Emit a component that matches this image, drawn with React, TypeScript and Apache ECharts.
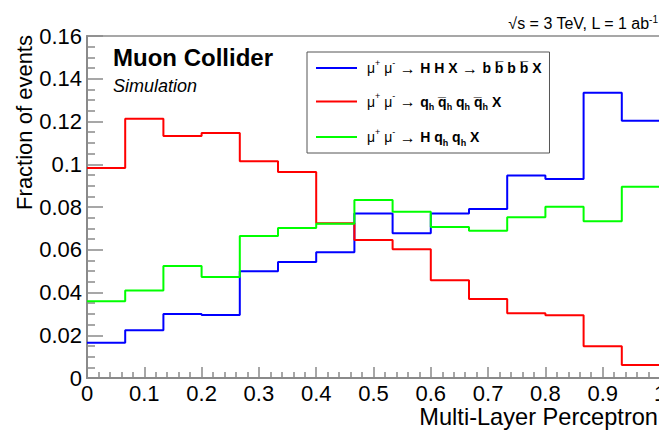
import React, { useEffect, useRef } from "react";
import * as echarts from "echarts";

const xMin = 0;
const xMax = 1;
const nBins = 15;

const seriesNames = ["HHbbbb", "qqqq", "Hqq"];
const seriesColors = ["#0000ff", "#ff0000", "#00ff00"];

// Fraction of events per bin (15 bins from 0 to 1)
const hhValues = [0.0165, 0.0223, 0.0299, 0.0295, 0.0499, 0.0543, 0.0588, 0.077, 0.0677, 0.077, 0.0791, 0.0947, 0.0931, 0.1335, 0.1204];
const qqqqValues = [0.0982, 0.1213, 0.1132, 0.1146, 0.1014, 0.0964, 0.0724, 0.0646, 0.0602, 0.0457, 0.037, 0.0303, 0.0293, 0.0148, 0.0061];
const hqqValues = [0.0359, 0.0409, 0.0524, 0.0473, 0.0664, 0.0702, 0.0722, 0.0833, 0.0778, 0.0706, 0.0689, 0.0752, 0.0801, 0.0733, 0.0895];

const legendLabels: Record<string, string> = {
  HHbbbb: "{m|μ}{sp|+}{m| μ}{sp|-}{ar| → }{b|H H X}{ar| → }{b|b b\u0305 b b\u0305 X}",
  qqqq: "{m|μ}{sp|+}{m| μ}{sp|-}{ar| → }{b|q}{sb|h}{b| q\u0305}{sb|h}{b| q}{sb|h}{b| q\u0305}{sb|h}{b| X}",
  Hqq: "{m|μ}{sp|+}{m| μ}{sp|-}{ar| → }{b|H q}{sb|h}{b| q}{sb|h}{b| X}",
};

const yTicks = { min: 0, max: 0.16, interval: 0.02 };
const xTicks = { min: 0, max: 1, interval: 0.1 };

const FONT = "'Liberation Sans', Arial, Helvetica, sans-serif";
const AXIS_GRAY = "#8a8a8a";

function histPoints(values: number[]): number[][] {
  const w = (xMax - xMin) / nBins;
  const pts = values.map((v, i) => [xMin + i * w, v]);
  pts.push([xMax, values[values.length - 1]]);
  return pts;
}

export default function App() {
  const ref = useRef<HTMLDivElement>(null);
  useEffect(() => {
    if (!ref.current) return;
    const chart = echarts.init(ref.current, undefined, { renderer: "svg" });
    const allValues = [hhValues, qqqqValues, hqqValues];
    chart.setOption({
      animation: false,
      textStyle: { fontFamily: FONT },
      grid: {
        left: 87,
        top: 36,
        width: 573,
        height: 342,
        show: true,
        borderColor: AXIS_GRAY,
        borderWidth: 1.5,
        backgroundColor: "transparent",
        outerBoundsMode: "none",
        containLabel: false,
      },
      xAxis: {
        type: "value",
        min: xTicks.min,
        max: xTicks.max,
        interval: xTicks.interval,
        axisLine: { show: true, lineStyle: { color: AXIS_GRAY, width: 2 } },
        axisTick: { show: true, inside: true, length: 11, lineStyle: { color: AXIS_GRAY, width: 1.5 } },
        minorTick: { show: true, splitNumber: 5, length: 6, lineStyle: { color: AXIS_GRAY, width: 1.5 } },
        splitLine: { show: false },
        axisLabel: { color: "#000", fontSize: 22, margin: 4, fontFamily: FONT, showMaxLabel: true, showMinLabel: true },
      },
      yAxis: {
        type: "value",
        min: yTicks.min,
        max: yTicks.max,
        interval: yTicks.interval,
        axisLine: { show: true, lineStyle: { color: AXIS_GRAY, width: 2 } },
        axisTick: { show: true, inside: true, length: 16, lineStyle: { color: AXIS_GRAY, width: 1.5 } },
        minorTick: { show: true, splitNumber: 4, length: 8, lineStyle: { color: AXIS_GRAY, width: 1.5 } },
        splitLine: { show: false },
        axisLabel: { color: "#000", fontSize: 22, margin: 5, fontFamily: FONT },
      },
      legend: {
        orient: "vertical",
        left: 307,
        top: 52,
        padding: [6, 8, 6, 9],
        itemWidth: 41,
        itemHeight: 2,
        itemGap: 15.5,
        icon: "rect",
        backgroundColor: "#fff",
        borderColor: "#555",
        borderWidth: 1,
        borderRadius: 0,
        data: seriesNames,
        formatter: (name: string) => legendLabels[name],
        textStyle: {
          fontFamily: FONT,
          color: "#000",
          padding: [0, 0, 0, 5],
          rich: {
            m: { fontSize: 14, fontFamily: FONT, color: "#000", lineHeight: 20 },
            ar: { fontSize: 16, fontFamily: FONT, color: "#000", lineHeight: 20 },
            b: { fontSize: 14, fontWeight: "bold", fontFamily: FONT, color: "#000", lineHeight: 20 },
            sp: { fontSize: 9, fontFamily: FONT, color: "#000", lineHeight: 11, verticalAlign: "top" },
            sb: { fontSize: 9, fontWeight: "bold", fontFamily: FONT, color: "#000", lineHeight: 10, verticalAlign: "bottom" },
          },
        },
      },
      graphic: [
        {
          type: "text",
          x: 113,
          y: 57,
          style: { text: "Muon Collider", font: `bold 24px ${FONT}`, fill: "#000", align: "left", verticalAlign: "middle" },
        },
        {
          type: "text",
          x: 113,
          y: 86,
          style: { text: "Simulation", font: `italic 18px ${FONT}`, fill: "#000", align: "left", verticalAlign: "middle" },
        },
        {
          type: "text",
          x: 24,
          y: 35,
          rotation: Math.PI / 2,
          style: { text: "Fraction of events", font: `22px ${FONT}`, fill: "#000", align: "right", verticalAlign: "middle" },
        },
        {
          type: "text",
          x: 658,
          y: 417,
          style: { text: "Multi-Layer Perceptron", font: `23.6px ${FONT}`, fill: "#000", align: "right", verticalAlign: "middle" },
        },
        {
          type: "text",
          x: 658,
          y: 23,
          style: {
            text: "{a|√s = 3 TeV, L = 1 ab}{s|-1}",
            align: "right",
            verticalAlign: "middle",
            rich: {
              a: { fontSize: 16, fontFamily: FONT, fill: "#000", lineHeight: 18 },
              s: { fontSize: 10, fontFamily: FONT, fill: "#000", lineHeight: 10, verticalAlign: "top" },
            },
          },
        },
      ],
      series: seriesNames.map((name, i) => ({
        name,
        type: "line",
        step: "end",
        symbol: "none",
        showSymbol: false,
        lineStyle: { color: seriesColors[i], width: 2 },
        itemStyle: { color: seriesColors[i] },
        data: histPoints(allValues[i]),
        clip: true,
      })),
    });
    return () => chart.dispose();
  }, []);
  return <div ref={ref} style={{ position: "absolute", left: 0, top: 0, width: 659, height: 430 }} />;
}
